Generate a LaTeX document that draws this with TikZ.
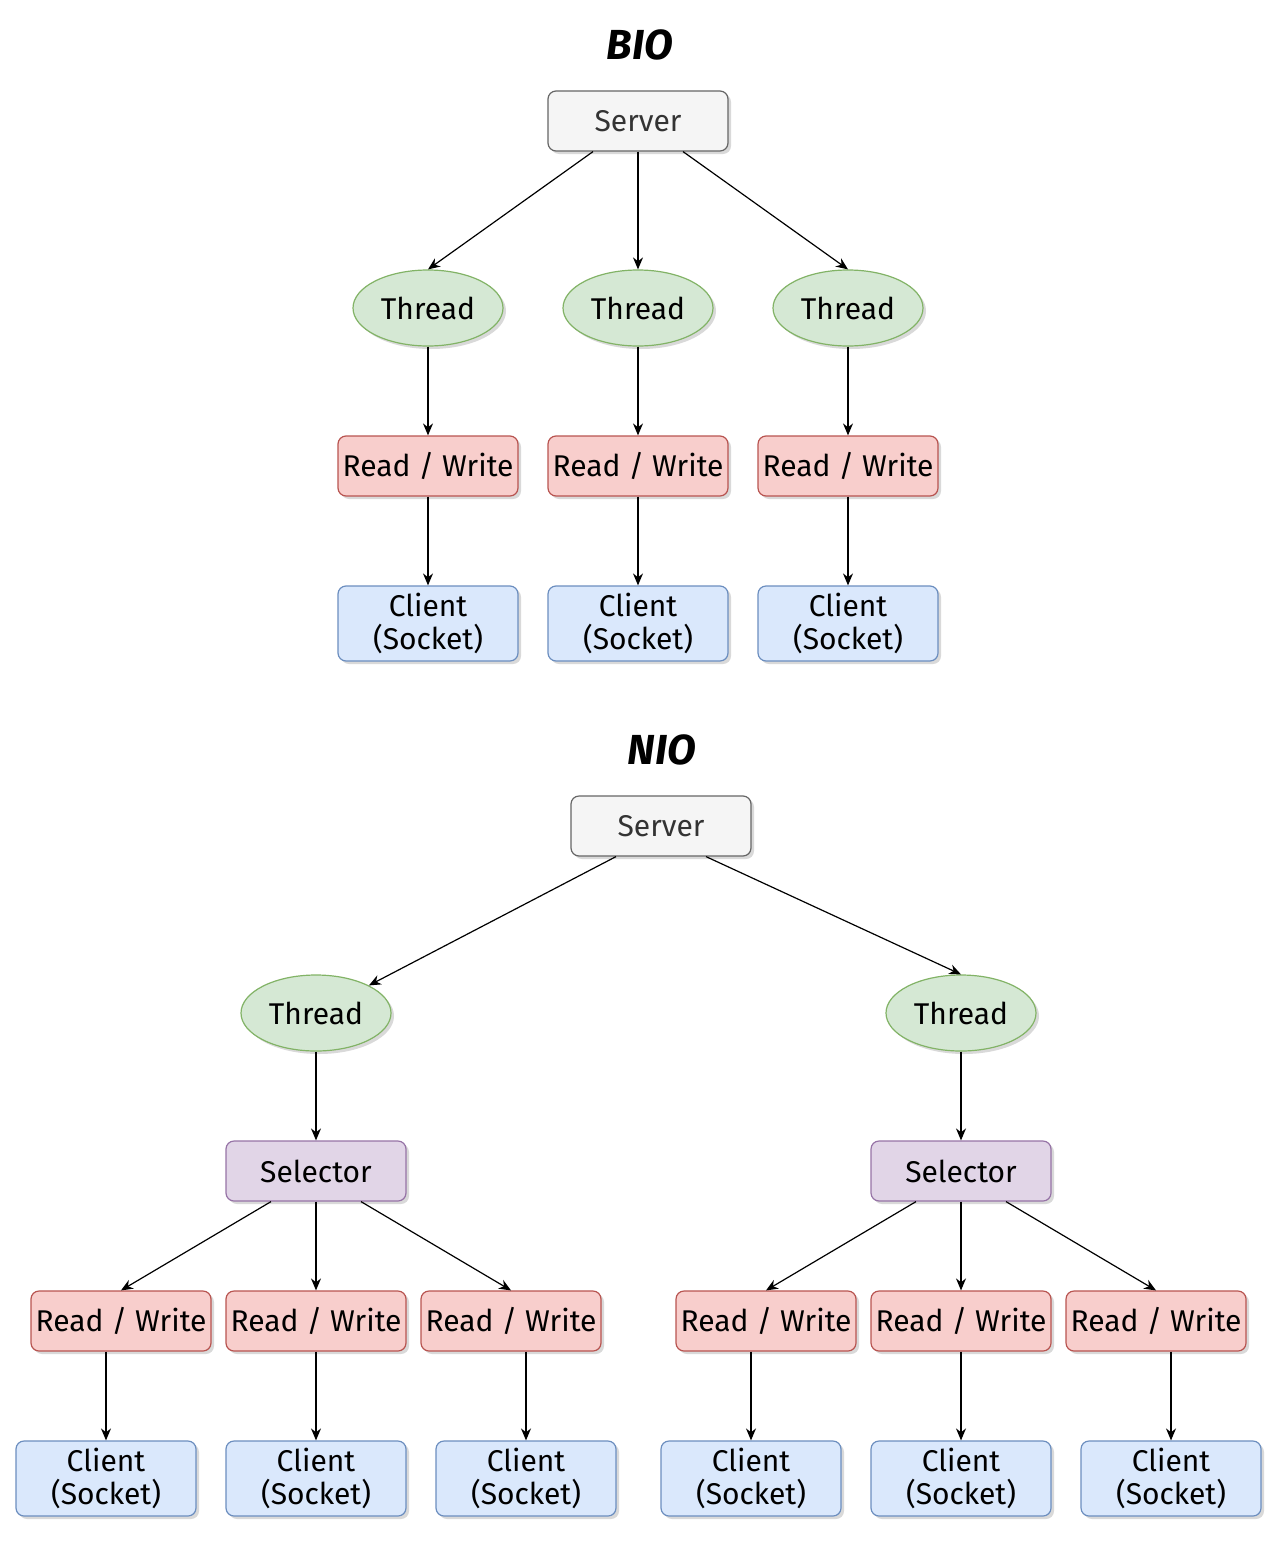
\documentclass[tikz,border=0pt]{standalone}
\usepackage{fontspec}
\setmainfont{Fira Sans}
\usetikzlibrary{shapes.geometric,arrows.meta,shadows}

\definecolor{srvfill}{HTML}{F5F5F5}
\definecolor{srvline}{HTML}{666666}
\definecolor{thfill}{HTML}{D5E8D4}
\definecolor{thline}{HTML}{82B366}
\definecolor{rwfill}{HTML}{F8CECC}
\definecolor{rwline}{HTML}{B85450}
\definecolor{clfill}{HTML}{DAE8FC}
\definecolor{clline}{HTML}{6C8EBF}
\definecolor{selfill}{HTML}{E1D5E7}
\definecolor{selline}{HTML}{9673A6}

\begin{document}
\begin{tikzpicture}
[every node/.style={inner sep=0pt, font=\fontsize{15}{16.5}\selectfont},
 shade/.style={drop shadow={shadow xshift=1.5pt, shadow yshift=-1.5pt, opacity=0.25, fill=black!60}},
 srvbox/.style={rectangle, rounded corners=4pt, minimum width=90pt, minimum height=30pt, line width=0.6pt, fill=srvfill, draw=srvline, text=black!80, shade},
 thnode/.style={ellipse, minimum width=75pt, minimum height=38pt, line width=0.6pt, fill=thfill, draw=thline, shade},
 rwbox/.style={rectangle, rounded corners=4pt, minimum width=90pt, minimum height=30pt, line width=0.6pt, fill=rwfill, draw=rwline, shade},
 selbox/.style={rectangle, rounded corners=4pt, minimum width=90pt, minimum height=30pt, line width=0.6pt, fill=selfill, draw=selline, shade},
 clbox/.style={rectangle, rounded corners=4pt, minimum width=90pt, minimum height=37.5pt, line width=0.6pt, fill=clfill, draw=clline, align=center, shade},
 title/.style={font=\fontsize{21}{23}\selectfont\bfseries\itshape},
 link/.style={line width=0.6pt, -{Stealth[length=6pt, width=5pt]}, color=black}]
\useasboundingbox (0pt, 0pt) rectangle (643pt, -770.5pt);
% BIO
\node (bio) [title] at (320.0pt, -22.5pt) {BIO};
\node (bsrv) [srvbox] at (319.0pt, -60.5pt) {Server};
\node (bth1) [thnode] at (214.0pt, -154.0pt) {Thread};
\node (bth2) [thnode] at (319.0pt, -154.0pt) {Thread};
\node (bth3) [thnode] at (424.0pt, -154.0pt) {Thread};
\node (brw1) [rwbox] at (214.0pt, -233.0pt) {Read / Write};
\node (brw2) [rwbox] at (319.0pt, -233.0pt) {Read / Write};
\node (brw3) [rwbox] at (424.0pt, -233.0pt) {Read / Write};
\node (bcl1) [clbox] at (214.0pt, -311.75pt) {Client\\(Socket)};
\node (bcl2) [clbox] at (319.0pt, -311.75pt) {Client\\(Socket)};
\node (bcl3) [clbox] at (424.0pt, -311.75pt) {Client\\(Socket)};
\draw [link] ([xshift=-22.5pt]bsrv.south) to (bth1.north);
\draw [link] (bsrv.south) to (bth2.north);
\draw [link] ([xshift=22.5pt]bsrv.south) to (bth3.north);
\draw [link] (bth1) to (brw1);
\draw [link] (bth2) to (brw2);
\draw [link] (bth3) to (brw3);
\draw [link] (brw1) to (bcl1);
\draw [link] (brw2) to (bcl2);
\draw [link] (brw3) to (bcl3);
% NIO
\node (nio) [title] at (331.0pt, -375.0pt) {NIO};
\node (nsrv) [srvbox] at (330.5pt, -413.0pt) {Server};
\node (nth1) [thnode] at (158.0pt, -506.5pt) {Thread};
\node (nth2) [thnode] at (480.5pt, -506.5pt) {Thread};
\node (nsel1) [selbox] at (158.0pt, -585.5pt) {Selector};
\node (nsel2) [selbox] at (480.5pt, -585.5pt) {Selector};
\node (nrw1) [rwbox] at (60.5pt, -660.5pt) {Read / Write};
\node (nrw2) [rwbox] at (158.0pt, -660.5pt) {Read / Write};
\node (nrw3) [rwbox] at (255.5pt, -660.5pt) {Read / Write};
\node (nrw4) [rwbox] at (383.0pt, -660.5pt) {Read / Write};
\node (nrw5) [rwbox] at (480.5pt, -660.5pt) {Read / Write};
\node (nrw6) [rwbox] at (578.0pt, -660.5pt) {Read / Write};
\node (ncl1) [clbox] at (53.0pt, -739.25pt) {Client\\(Socket)};
\node (ncl2) [clbox] at (158.0pt, -739.25pt) {Client\\(Socket)};
\node (ncl3) [clbox] at (263.0pt, -739.25pt) {Client\\(Socket)};
\node (ncl4) [clbox] at (375.5pt, -739.25pt) {Client\\(Socket)};
\node (ncl5) [clbox] at (480.5pt, -739.25pt) {Client\\(Socket)};
\node (ncl6) [clbox] at (585.5pt, -739.25pt) {Client\\(Socket)};
\draw [link] ([xshift=-22.5pt]nsrv.south) to (nth1);
\draw [link] ([xshift=22.5pt]nsrv.south) to (nth2.north);
\draw [link] (nth1) to (nsel1);
\draw [link] (nth2) to (nsel2);
\draw [link] ([xshift=-22.5pt]nsel1.south) to (nrw1.north);
\draw [link] (nsel1) to (nrw2);
\draw [link] ([xshift=22.5pt]nsel1.south) to (nrw3.north);
\draw [link] ([xshift=-22.5pt]nsel2.south) to (nrw4.north);
\draw [link] (nsel2) to (nrw5);
\draw [link] ([xshift=22.5pt]nsel2.south) to (nrw6.north);
\draw [link] (nrw1.south -| ncl1.north) to (ncl1.north);
\draw [link] (nrw2) to (ncl2);
\draw [link] (nrw3.south -| ncl3.north) to (ncl3.north);
\draw [link] (nrw4.south -| ncl4.north) to (ncl4.north);
\draw [link] (nrw5) to (ncl5);
\draw [link] (nrw6.south -| ncl6.north) to (ncl6.north);
\end{tikzpicture}
\end{document}
